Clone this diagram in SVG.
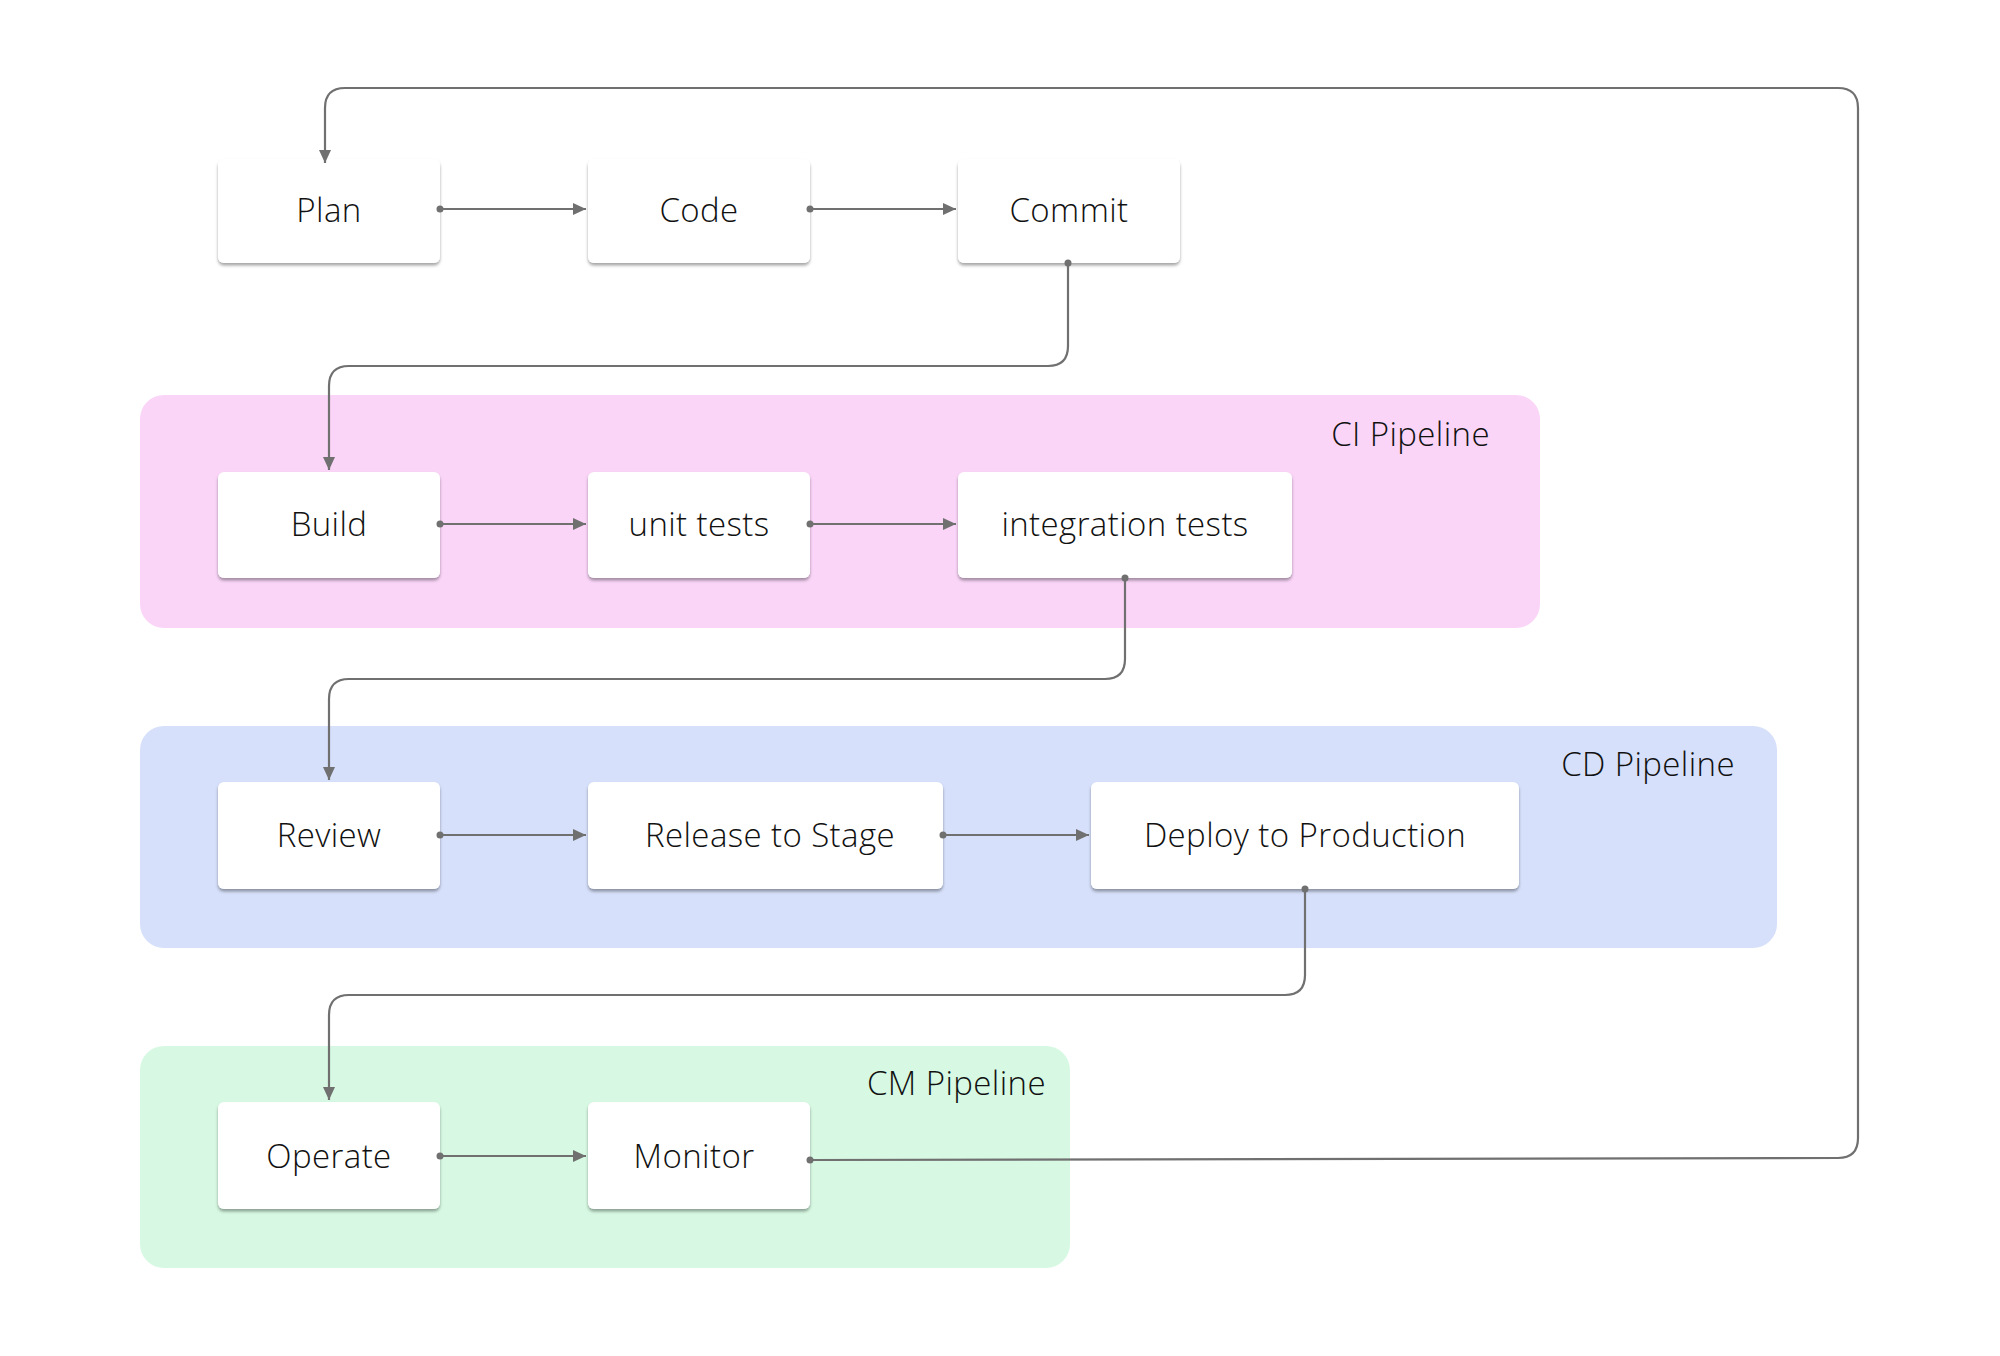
<svg xmlns="http://www.w3.org/2000/svg" width="2000" height="1356" viewBox="0 0 2000 1356">
<defs>
<style>
.node rect{fill:#ffffff;filter:url(#sh)}
.node text,.grp text{font-family:"Open Sans","Noto Sans",sans-serif;font-size:33px;font-weight:300;letter-spacing:0.4px;fill:#111111}
.node text{text-anchor:middle}
.grp text{text-anchor:end}
.conn path{fill:none;stroke:#707070;stroke-width:2.2}
</style>
<filter id="sh" x="-10%" y="-10%" width="120%" height="130%">
<feDropShadow dx="0" dy="2.5" stdDeviation="1.5" flood-color="#000" flood-opacity="0.35"/>
</filter>
<marker id="arr" viewBox="0 0 13 12" refX="13" refY="6" markerWidth="13" markerHeight="12" markerUnits="userSpaceOnUse" orient="auto">
<path d="M0,0 L13,6 L0,12 z" fill="#707070"/>
</marker>
<marker id="dot" viewBox="0 0 8 8" refX="4" refY="4" markerWidth="8" markerHeight="8" markerUnits="userSpaceOnUse">
<circle cx="4" cy="4" r="3.5" fill="#707070"/>
</marker>
</defs>
<rect width="2000" height="1356" fill="#ffffff"/>

<g id="ci-pipeline" class="grp">
<rect x="140" y="395" width="1400" height="233" rx="24" fill="#fad5f8"/>
<text x="1490" y="446">CI Pipeline</text>
</g>
<g id="cd-pipeline" class="grp">
<rect x="140" y="726" width="1637" height="222" rx="24" fill="#d6e0fa"/>
<text x="1735" y="776">CD Pipeline</text>
</g>
<g id="cm-pipeline" class="grp">
<rect x="140" y="1046" width="930" height="222" rx="24" fill="#d7f9e3"/>
<text x="1046" y="1095">CM Pipeline</text>
</g>

<g id="plan" class="node"><rect x="218" y="159" width="222" height="104" rx="6"/><text x="329" y="222">Plan</text></g>
<g id="code" class="node"><rect x="588" y="159" width="222" height="104" rx="6"/><text x="699" y="222">Code</text></g>
<g id="commit" class="node"><rect x="958" y="159" width="222" height="104" rx="6"/><text x="1069" y="222">Commit</text></g>

<g id="build" class="node"><rect x="218" y="472" width="222" height="106" rx="6"/><text x="329" y="536">Build</text></g>
<g id="unit-tests" class="node"><rect x="588" y="472" width="222" height="106" rx="6"/><text x="699" y="536">unit tests</text></g>
<g id="integration-tests" class="node"><rect x="958" y="472" width="334" height="106" rx="6"/><text x="1125" y="536">integration tests</text></g>

<g id="review" class="node"><rect x="218" y="782" width="222" height="107" rx="6"/><text x="329" y="847">Review</text></g>
<g id="release" class="node"><rect x="588" y="782" width="355" height="107" rx="6"/><text x="770" y="847">Release to Stage</text></g>
<g id="deploy" class="node"><rect x="1091" y="782" width="428" height="107" rx="6"/><text x="1305" y="847">Deploy to Production</text></g>

<g id="operate" class="node"><rect x="218" y="1102" width="222" height="107" rx="6"/><text x="329" y="1168">Operate</text></g>
<g id="monitor" class="node"><rect x="588" y="1102" width="222" height="107" rx="6"/><text x="694" y="1168">Monitor</text></g>

<g class="conn" id="connectors">
<path d="M440,209 L586,209" marker-start="url(#dot)" marker-end="url(#arr)"/>
<path d="M810,209 L956,209" marker-start="url(#dot)" marker-end="url(#arr)"/>
<path d="M1068,263 L1068,346 Q1068,366 1048,366 L349,366 Q329,366 329,386 L329,470" marker-start="url(#dot)" marker-end="url(#arr)"/>
<path d="M440,524 L586,524" marker-start="url(#dot)" marker-end="url(#arr)"/>
<path d="M810,524 L956,524" marker-start="url(#dot)" marker-end="url(#arr)"/>
<path d="M1125,578 L1125,659 Q1125,679 1105,679 L349,679 Q329,679 329,699 L329,780" marker-start="url(#dot)" marker-end="url(#arr)"/>
<path d="M440,835 L586,835" marker-start="url(#dot)" marker-end="url(#arr)"/>
<path d="M943,835 L1089,835" marker-start="url(#dot)" marker-end="url(#arr)"/>
<path d="M1305,889 L1305,975 Q1305,995 1285,995 L349,995 Q329,995 329,1015 L329,1100" marker-start="url(#dot)" marker-end="url(#arr)"/>
<path d="M440,1156 L586,1156" marker-start="url(#dot)" marker-end="url(#arr)"/>
<path d="M810,1160 L1838,1158 Q1858,1158 1858,1138 L1858,108 Q1858,88 1838,88 L345,88 Q325,88 325,108 L325,163" marker-start="url(#dot)" marker-end="url(#arr)"/>
</g>
</svg>
